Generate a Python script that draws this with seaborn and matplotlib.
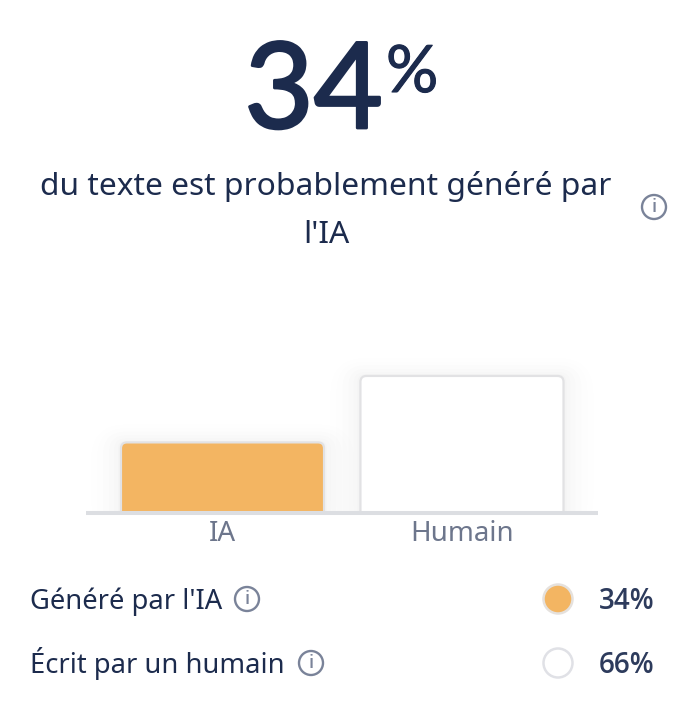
import matplotlib
matplotlib.use("Agg")
import matplotlib.pyplot as plt
import matplotlib.patheffects as pe
import pandas as pd
import seaborn as sns
from matplotlib.patches import Circle, FancyBboxPatch

categories = ["IA", "Humain"]
values = [34, 66]
legend_labels = ["Généré par l'IA", "Écrit par un humain"]
bar_colors = ["#f3b562", "#ffffff"]
dot_edges = ["#e5e1dd", "#e0e1e6"]

NAVY = "#1c2b4d"
GREY = "#6d768c"
ICON = "#7a8399"

sns.set_theme(style="white")
plt.rcParams["font.family"] = ["Noto Sans", "DejaVu Sans"]

W, H = 680, 720
fig = plt.figure(figsize=(W / 100, H / 100), dpi=100)

# bar chart, placed in pixels
ax = fig.add_axes([86 / W, 1 - 513 / H, 512 / W, 163 / H])
df = pd.DataFrame({"cat": categories, "val": values})
sns.barplot(data=df, x="cat", y="val", hue="cat", palette=bar_colors, legend=False,
            width=0.848, saturation=1, ax=ax)
ax.set_xlim(-0.57, 1.568)
ax.set_ylim(0, 78.5)
ax.set_xlabel("")
ax.set_ylabel("")
ax.set_yticks([])
ax.patch.set_alpha(0)
sns.despine(ax=ax, left=True)
ax.spines["bottom"].set_color("#dcdee2")
ax.spines["bottom"].set_linewidth(2.9)
ax.spines["bottom"].set_capstyle("butt")
ax.tick_params(axis="x", length=0, pad=5, labelsize=20, labelcolor=GREY)

# swap the square bars for rounded ones with a soft shadow
for bar in list(ax.patches):
    x, w, h = bar.get_x(), bar.get_width(), bar.get_height()
    color = bar.get_facecolor()
    bar.set_visible(False)
    px_x = 239.5  # pixels per x unit
    px_y = 163 / 78.5
    for grow, alpha in [(30, 0.004), (24, 0.005), (18, 0.006), (12, 0.007), (7, 0.009), (3, 0.012)]:
        ax.add_patch(FancyBboxPatch((x - grow / px_x, -10), w + 2 * grow / px_x, h + 10 + grow * 0.6 / px_y,
                                    boxstyle=f"round,pad=0,rounding_size={(grow + 5) / px_x}",
                                    mutation_aspect=px_x / px_y, fc="black", ec="none", alpha=alpha, zorder=1))
    ax.add_patch(FancyBboxPatch((x, -10), w, h + 10, boxstyle=f"round,pad=0,rounding_size={6 / px_x}",
                                mutation_aspect=px_x / px_y, fc=color, ec="#e2e2e4", lw=1.6, zorder=2))

# overlay in pixel coordinates for the text
ov = fig.add_axes([0, 0, 1, 1])
ov.set_xlim(0, W)
ov.set_ylim(H, 0)
ov.axis("off")
ov.patch.set_alpha(0)


def info_icon(cx, cy):
    ov.add_patch(Circle((cx, cy), 12, fc="white", ec=ICON, lw=1.7))
    ov.text(cx, cy + 0.5, "i", ha="center", va="center", fontsize=13, color=ICON, family="Open Sans",
            fontweight="semibold")


ov.text(383, 128, str(values[0]), ha="right", va="baseline", fontsize=86, color=NAVY,
        family="Lato", path_effects=[pe.withStroke(linewidth=2, foreground=NAVY)])
ov.text(386, 92, "%", ha="left", va="baseline", fontsize=47, color=NAVY, family="Lato",
        path_effects=[pe.withStroke(linewidth=0.8, foreground=NAVY)])
ov.text(326, 195, "du texte est probablement généré par", ha="center", va="baseline", fontsize=22.85, color=NAVY)
ov.text(326, 243, "l'IA", ha="center", va="baseline", fontsize=22.85, color=NAVY)
info_icon(654, 207)

icon_x = [247, 311]
row_y = [599, 663]
for label, val, col, edge, ix, y in zip(legend_labels, values, bar_colors, dot_edges, icon_x, row_y):
    ov.text(30, y + 10, label, ha="left", va="baseline", fontsize=19.7, color=NAVY)
    info_icon(ix, y)
    ov.add_patch(Circle((558, y), 14.5, fc=col, ec=edge, lw=1.8))
    ov.text(654, y + 10, f"{val}%", ha="right", va="baseline", fontsize=20, color="#2d3b5c",
            family="Open Sans", fontweight="semibold")

fig.savefig("out.png", dpi=100, facecolor="white")
